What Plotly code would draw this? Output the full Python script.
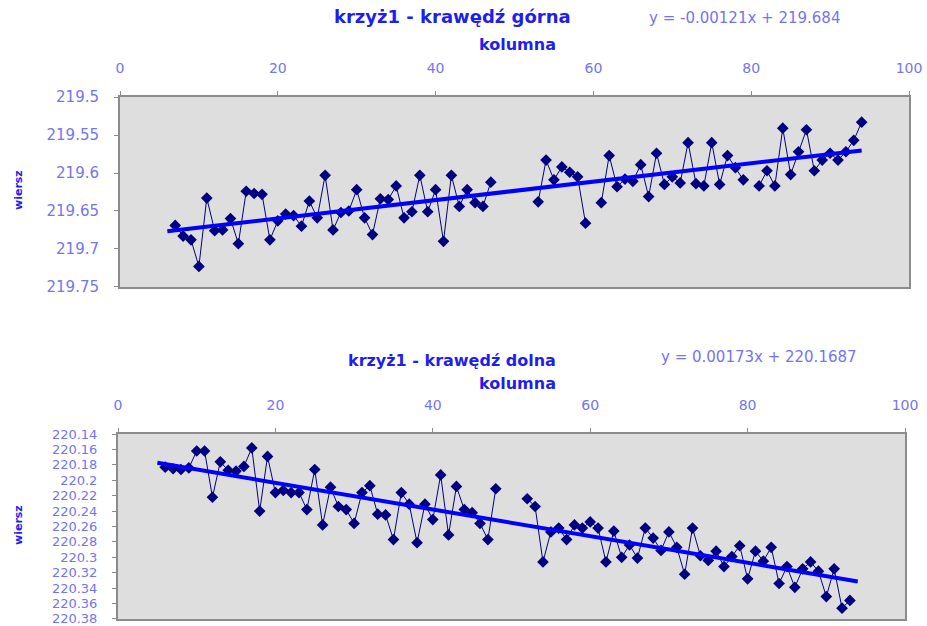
import plotly.graph_objects as go

# ---------------- data ----------------
# upper edge (krawędź górna): column -> row value (None = missing)
top_cols = list(range(7, 95))
top_vals = [
    219.669, 219.683, 219.688, 219.723, 219.633, 219.676, 219.675, 219.660, 219.693, 219.624,   # 7-16
    219.627, 219.628, 219.688, 219.663, 219.654, 219.656, 219.670, 219.637, 219.659, 219.603,   # 17-26
    219.675, 219.652, 219.650, 219.622, 219.659, 219.681, 219.634, 219.635, 219.617, 219.659,   # 27-36
    219.651, 219.603, 219.651, 219.622, 219.690, 219.603, 219.644, 219.622, 219.639, 219.644,   # 37-46
    219.612, None, None, None, None, None, 219.638, 219.583, 219.609, 219.592,                 # 47-56
    219.599, 219.605, 219.666, None, 219.639, 219.577, 219.618, 219.608, 219.611, 219.589,     # 57-66
    219.631, 219.574, 219.615, 219.605, 219.613, 219.560, 219.614, 219.617, 219.560, 219.615,   # 67-76
    219.577, 219.593, 219.609, None, 219.617, 219.597, 219.617, 219.541, 219.602, 219.572,     # 77-86
    219.543, 219.597, 219.583, 219.574, 219.583, 219.572, 219.557, 219.533,                     # 87-94
]
top_slope = -0.00121
top_intercept = 219.684
top_trend_cols = [6, 94]

# lower edge (krawędź dolna)
bot_cols = list(range(6, 94))
bot_vals = [
    220.183, 220.185, 220.186, 220.184, 220.162, 220.162, 220.222, 220.176, 220.187, 220.188,   # 6-15
    220.182, 220.158, 220.240, 220.169, 220.216, 220.213, 220.216, 220.216, 220.238, 220.186,   # 16-25
    220.258, 220.209, 220.234, 220.238, 220.256, 220.216, 220.207, 220.244, 220.245, 220.277,   # 26-35
    220.216, 220.231, 220.281, 220.231, 220.251, 220.193, 220.271, 220.208, 220.238, 220.242,   # 36-45
    220.256, 220.277, 220.211, None, None, None, 220.224, 220.234, 220.306, 220.267,           # 46-55
    220.262, 220.277, 220.258, 220.262, 220.254, 220.262, 220.306, 220.266, 220.300, 220.284,   # 56-65
    220.301, 220.262, 220.275, 220.291, 220.267, 220.287, 220.322, 220.262, 220.298, 220.304,   # 66-75
    220.292, 220.312, 220.299, 220.285, 220.328, 220.292, 220.305, 220.287, 220.334, 220.312,   # 76-85
    220.339, 220.315, 220.306, 220.318, 220.351, 220.315, 220.366, 220.356,                     # 86-93
]
bot_slope = 0.00173
bot_intercept = 220.1687
bot_trend_cols = [5, 94]

x_ticks = [0, 20, 40, 60, 80, 100]
top_y_ticks = [219.5, 219.55, 219.6, 219.65, 219.7, 219.75]
top_y_labels = ["219.5", "219.55", "219.6", "219.65", "219.7", "219.75"]
bot_y_ticks = [220.14, 220.16, 220.18, 220.2, 220.22, 220.24, 220.26, 220.28, 220.3,
               220.32, 220.34, 220.36, 220.38]
bot_y_labels = ["220.14", "220.16", "220.18", "220.2", "220.22", "220.24", "220.26",
                "220.28", "220.3", "220.32", "220.34", "220.36", "220.38"]

top_title = "krzyż1 - krawędź górna"
bot_title = "krzyż1 - krawędź dolna"
top_eq = "y = -0.00121x + 219.684"
bot_eq = "y = 0.00173x + 220.1687"
x_title = "kolumna"
y_title = "wiersz"

# ---------------- figure ----------------
W, H = 927, 626
FONT = "DejaVu Sans"
TICK_COLOR = "#7474F4"
TITLE_COLOR = "#1E1EF0"
NAVY = "#000080"
TREND = "#0000FF"

fig = go.Figure()

fig.add_trace(go.Scatter(x=top_cols, y=top_vals, mode="lines+markers",
                         line=dict(color=NAVY, width=1),
                         marker=dict(symbol="diamond", size=9, color=NAVY),
                         connectgaps=False, xaxis="x", yaxis="y", showlegend=False))
fig.add_trace(go.Scatter(x=top_trend_cols,
                         y=[top_slope * c + top_intercept for c in top_trend_cols],
                         mode="lines", line=dict(color=TREND, width=4),
                         xaxis="x", yaxis="y", showlegend=False))

fig.add_trace(go.Scatter(x=bot_cols, y=bot_vals, mode="lines+markers",
                         line=dict(color=NAVY, width=1),
                         marker=dict(symbol="diamond", size=9, color=NAVY),
                         connectgaps=False, xaxis="x2", yaxis="y2", showlegend=False))
fig.add_trace(go.Scatter(x=bot_trend_cols,
                         y=[bot_slope * c + bot_intercept for c in bot_trend_cols],
                         mode="lines", line=dict(color=TREND, width=4),
                         xaxis="x2", yaxis="y2", showlegend=False))

axis_common = dict(showline=True, linecolor="#8C8C8C", linewidth=2, mirror=True,
                   ticks="outside", ticklen=4, tickcolor="#8C8C8C", tickwidth=1,
                   showgrid=False, zeroline=False, automargin=False,
                   ticklabeloverflow="allow")

fig.update_layout(
    width=W, height=H, autosize=False,
    margin=dict(l=0, r=0, t=0, b=0, autoexpand=False),
    paper_bgcolor="white", plot_bgcolor="#DEDEDE",
    xaxis=dict(domain=[120 / W, 909 / W], range=[0, 100], side="top", anchor="y",
               tickvals=x_ticks, ticktext=[str(t) for t in x_ticks],
               tickfont=dict(family=FONT, size=14, color=TICK_COLOR),
               ticklabelstandoff=12, **axis_common),
    yaxis=dict(domain=[1 - 287 / H, 1 - 97 / H], range=[219.7501, 219.4999], anchor="x",
               tickvals=top_y_ticks, ticktext=top_y_labels,
               tickfont=dict(family=FONT, size=15, color=TICK_COLOR),
               ticklabelstandoff=12, **axis_common),
    xaxis2=dict(domain=[118 / W, 905 / W], range=[0, 100], side="top", anchor="y2",
                tickvals=x_ticks, ticktext=[str(t) for t in x_ticks],
                tickfont=dict(family=FONT, size=14, color=TICK_COLOR),
                ticklabelstandoff=12, **axis_common),
    yaxis2=dict(domain=[1 - 619 / H, 1 - 434 / H], range=[220.3801, 220.1399], anchor="x2",
                tickvals=bot_y_ticks, ticktext=bot_y_labels,
                tickfont=dict(family=FONT, size=13, color=TICK_COLOR),
                ticklabelstandoff=12, **axis_common),
)

def ann(text, xpx, ypx, size, color, bold=False, angle=0):
    fig.add_annotation(text=f"<b>{text}</b>" if bold else text,
                       x=xpx / W, y=1 - ypx / H, xref="paper", yref="paper",
                       xanchor="center", yanchor="middle", showarrow=False,
                       textangle=angle,
                       font=dict(family=FONT, size=size, color=color))

ann(top_title, 452, 17, 18, TITLE_COLOR, bold=True)
ann(top_eq, 744, 18, 15, TICK_COLOR)
ann(x_title, 517, 45, 16, TITLE_COLOR, bold=True)
ann(y_title, 18, 190, 11, TITLE_COLOR, bold=True, angle=-90)

ann(bot_title, 452, 360, 16, TITLE_COLOR, bold=True)
ann(bot_eq, 759, 357, 15, TICK_COLOR)
ann(x_title, 517, 383, 16, TITLE_COLOR, bold=True)
ann(y_title, 18, 525, 11, TITLE_COLOR, bold=True, angle=-90)

fig.write_html(
    "out.html",
    config={"displayModeBar": False},
    post_script="document.body.style.margin='0';document.body.style.overflow='hidden';",
)
